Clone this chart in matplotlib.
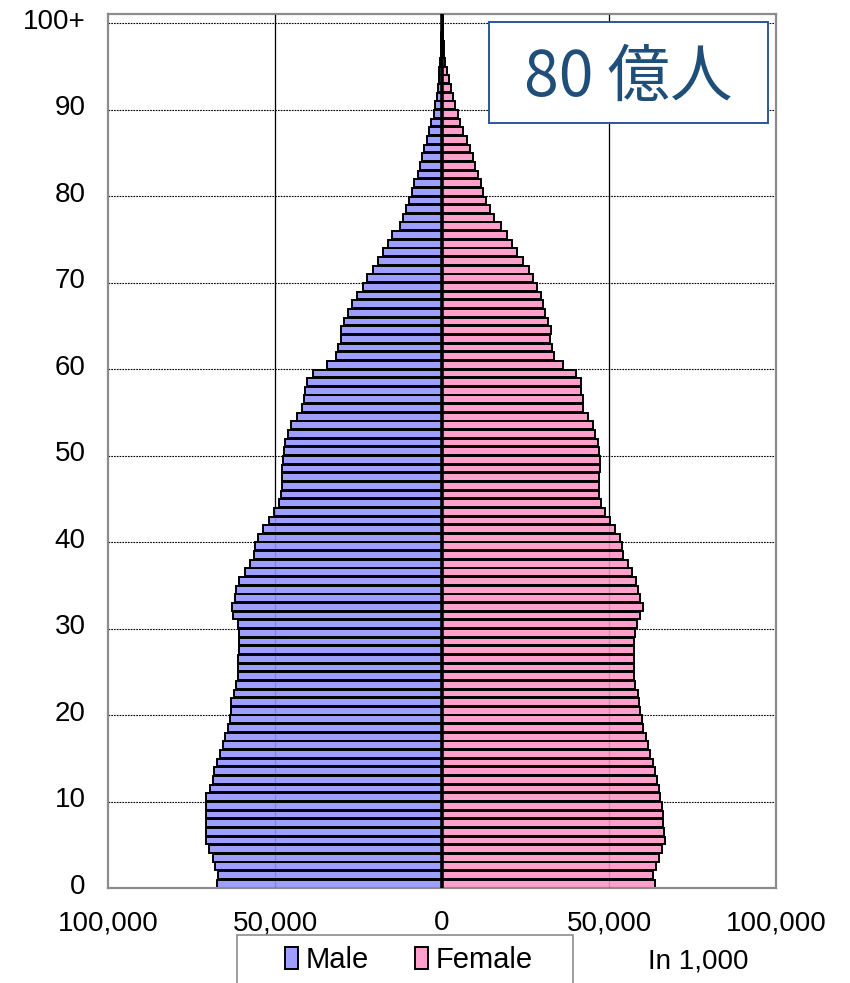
"""World population pyramid (8 billion) recreated with matplotlib."""

import matplotlib.pyplot as plt
from matplotlib.patches import Patch, Rectangle

# population by single year of age, in thousands (age 0 .. 100+)
male = [
    67.5, 67.0, 68.0, 68.7, 69.7, 70.7, 70.7, 70.7, 70.7, 70.7,
    70.7, 69.4, 68.7, 68.4, 67.5, 66.5, 65.7, 65.0, 64.2, 63.5,
    63.2, 63.1, 62.4, 61.7, 61.1, 61.0, 61.0, 60.7, 60.7, 60.8,
    61.2, 62.5, 63.0, 62.1, 61.6, 60.7, 59.1, 57.5, 56.4, 56.0,
    55.1, 53.5, 51.9, 50.4, 48.9, 48.2, 47.9, 48.0, 48.0, 47.7,
    47.4, 46.9, 46.2, 45.1, 43.4, 41.9, 41.4, 40.9, 40.4, 38.7,
    34.4, 31.7, 31.0, 30.2, 30.2, 29.3, 28.0, 26.8, 25.3, 23.8,
    22.5, 20.8, 19.3, 17.8, 16.2, 15.0, 12.5, 11.6, 10.8, 9.8,
    9.0, 8.3, 7.3, 6.6, 6.0, 5.3, 4.6, 4.0, 3.3, 2.5,
    2.0, 1.6, 1.3, 1.0, 0.8, 0.6, 0.4, 0.3, 0.2, 0.1,
    0.1,
]
female = [
    63.9, 63.3, 64.1, 64.9, 65.9, 66.7, 66.6, 66.3, 66.1, 65.9,
    65.4, 64.9, 64.4, 63.9, 63.3, 62.3, 61.6, 61.1, 60.3, 59.8,
    59.4, 59.1, 58.6, 57.9, 57.5, 57.4, 57.4, 57.4, 57.5, 57.9,
    58.4, 59.4, 60.3, 59.3, 58.8, 58.1, 56.8, 55.6, 54.3, 53.9,
    53.3, 51.8, 50.4, 48.8, 47.6, 47.1, 46.9, 47.1, 47.3, 47.3,
    46.9, 46.6, 45.9, 45.1, 43.8, 42.3, 42.1, 41.6, 41.6, 40.1,
    36.1, 33.6, 32.8, 32.4, 32.6, 31.8, 30.9, 30.3, 29.6, 28.3,
    27.3, 25.9, 24.3, 22.6, 21.0, 19.5, 17.7, 15.7, 14.5, 13.2,
    12.4, 11.7, 10.7, 9.9, 9.2, 8.4, 7.4, 6.4, 5.5, 4.7,
    4.0, 3.2, 2.7, 2.0, 1.5, 1.0, 0.7, 0.5, 0.3, 0.2,
    0.2,
]
age_ticks = [0, 10, 20, 30, 40, 50, 60, 70, 80, 90, 100]
age_labels = ["0", "10", "20", "30", "40", "50", "60", "70", "80", "90", "100+"]
x_ticks = [-100000, -50000, 0, 50000, 100000]
x_labels = ["100,000", "50,000", "0", "50,000", "100,000"]
title = "80 億人"
unit_label = "In 1,000"

MALE_COLOR = "#9E9EFF"
FEMALE_COLOR = "#FF9FCC"


def fig_box(x0, y0, x1, y1):
    """Pixel box (top-left origin) -> figure fraction rectangle args."""
    return (x0 / 850, 1 - y1 / 983), (x1 - x0) / 850, (y1 - y0) / 983


def main() -> None:
    plt.rcParams["font.family"] = ["Liberation Sans", "DejaVu Sans"]

    fig = plt.figure(figsize=(8.5, 9.83), dpi=100)
    ax = fig.add_axes([108 / 850, 95 / 983, 668 / 850, 873.5 / 983])

    ages = [a + 0.5 for a in range(len(male))]
    male_vals = [-v * 1000 for v in male]
    female_vals = [v * 1000 for v in female]

    # grid behind the bars
    for a in age_ticks[1:]:
        ax.axhline(a, color="black", lw=0.8, ls=(0, (1.5, 1)), zorder=1)
    for x in (-50000, 50000):
        ax.axvline(x, color="black", lw=0.9, zorder=1)

    ax.barh(ages, male_vals, height=0.9, color=MALE_COLOR,
            edgecolor="black", linewidth=1.4, zorder=2)
    ax.barh(ages, female_vals, height=0.9, color=FEMALE_COLOR,
            edgecolor="black", linewidth=1.4, zorder=2)

    # the gridlines show faintly through the bars in the original
    for x in (-50000, 50000):
        ax.axvline(x, color="black", lw=0.9, alpha=0.15, zorder=3)
    ax.axvline(0, color="black", lw=2.6, zorder=4)

    ax.set_xlim(-100000, 100000)
    ax.set_ylim(0, 101)
    ax.set_xticks(x_ticks)
    ax.set_xticklabels(x_labels, fontsize=20)
    ax.set_yticks([a + 0.5 for a in age_ticks])
    ax.set_yticklabels(age_labels, fontsize=20)
    ax.tick_params(axis="x", length=0, pad=16)
    ax.tick_params(axis="y", length=0, pad=16)
    for spine in ax.spines.values():
        spine.set_color("#8C8C8C")
        spine.set_linewidth(1.6)

    # title box
    xy, w, h = fig_box(489, 22, 768, 123)
    fig.patches.append(Rectangle(xy, w, h, transform=fig.transFigure,
                                 facecolor="white", edgecolor="#2F5597",
                                 linewidth=1.4, zorder=5))
    fig.text(628 / 850, 1 - 78 / 983, title,
             family=["Noto Sans CJK JP", "DejaVu Sans"], fontsize=45,
             color="#1F4E79", ha="center", va="center", zorder=6)

    # legend box (runs off the bottom of the figure like the original)
    xy, w, h = fig_box(237, 935, 573, 1000)
    fig.patches.append(Rectangle(xy, w, h, transform=fig.transFigure,
                                 facecolor="white", edgecolor="#8C8C8C",
                                 linewidth=1.2))
    handles = [
        Patch(facecolor=MALE_COLOR, edgecolor="black", linewidth=1.4, label="Male"),
        Patch(facecolor=FEMALE_COLOR, edgecolor="black", linewidth=1.4, label="Female"),
    ]
    fig.legend(handles=handles, loc="center", bbox_to_anchor=(0.481, 0.0235),
               ncol=2, frameon=False, fontsize=21, handlelength=0.45,
               handleheight=0.8, handletextpad=0.25, columnspacing=1.6)

    fig.text(648 / 850, 1 - 962 / 983, unit_label, fontsize=20,
             ha="left", va="center")

    fig.savefig("out.png", dpi=100)


if __name__ == "__main__":
    main()
